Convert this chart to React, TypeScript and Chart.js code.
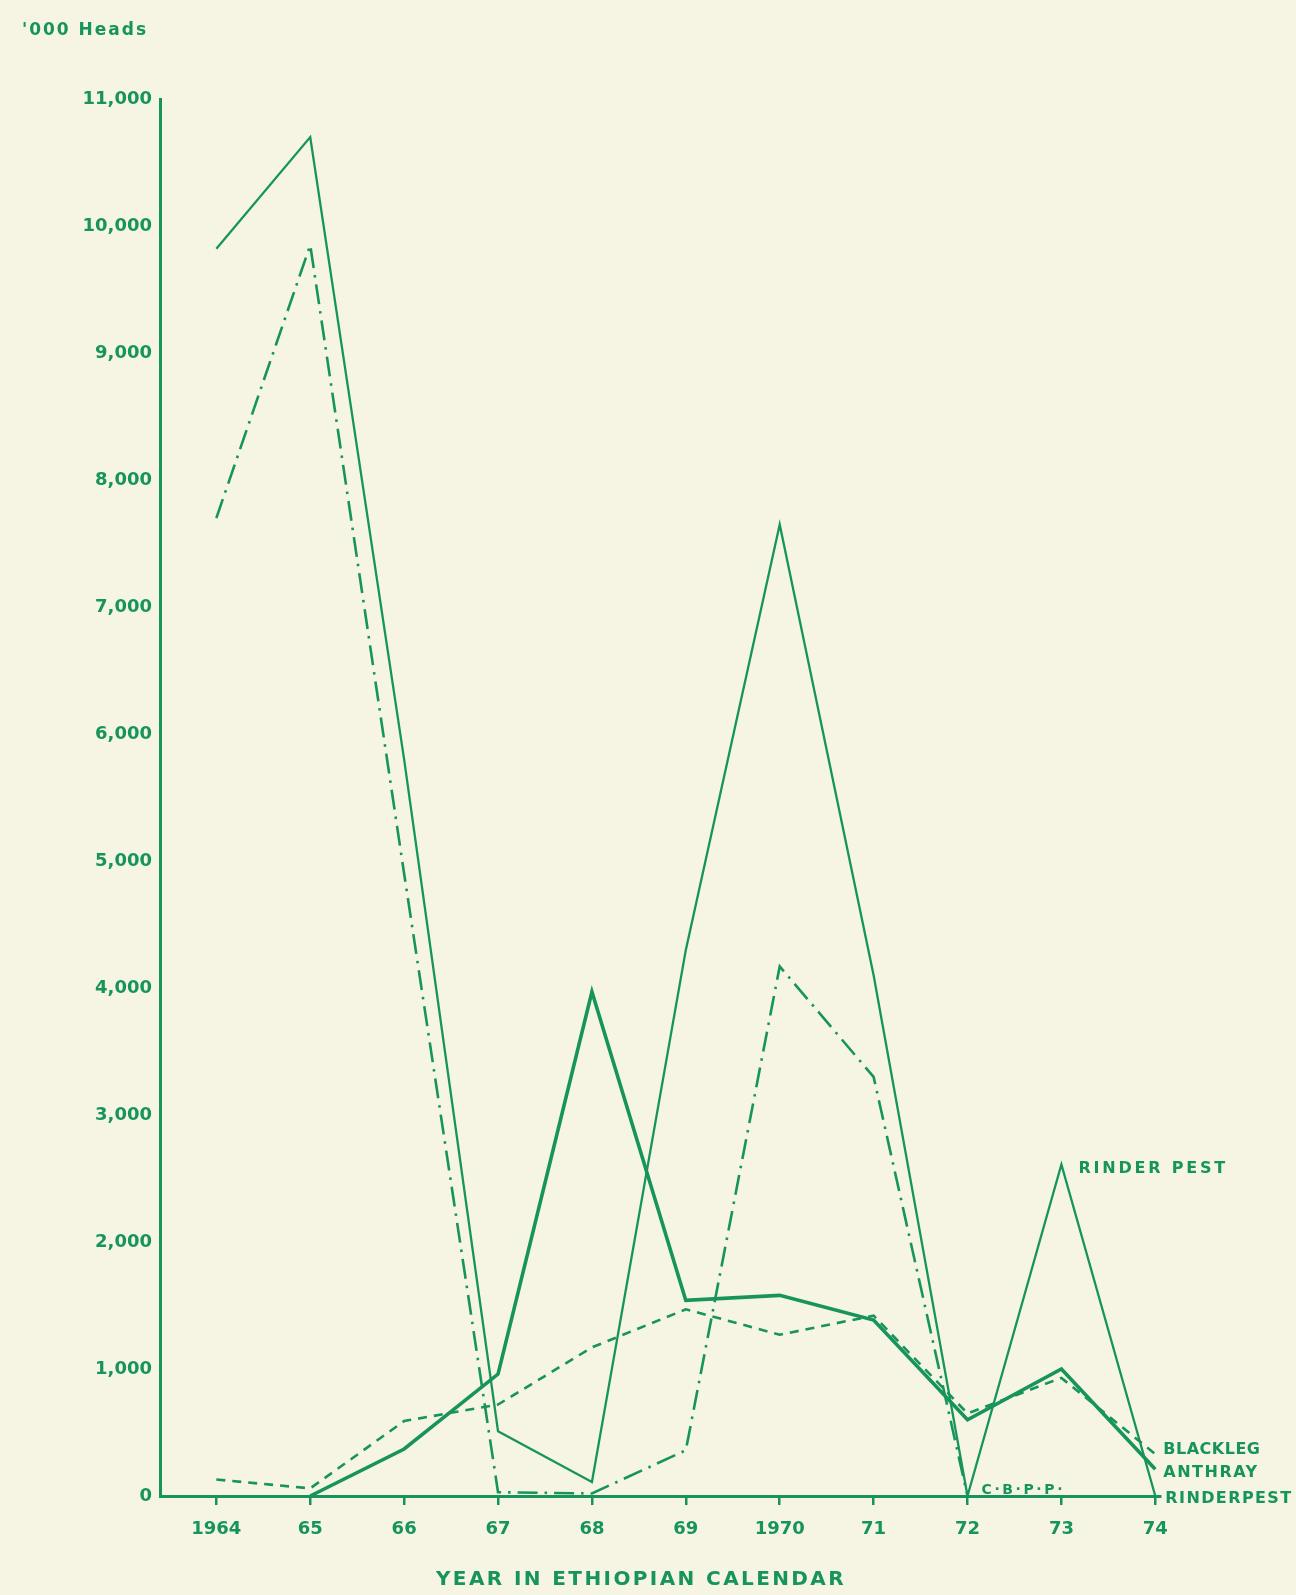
import React, { useEffect, useRef } from "react";
import { Chart, registerables } from "chart.js";

Chart.register(...registerables);

const years = [1964, 1965, 1966, 1967, 1968, 1969, 1970, 1971, 1972, 1973, 1974];
const yearLabels = ["1964", "65", "66", "67", "68", "69", "1970", "71", "72", "73", "74"];
const rinderpest = [9820, 10700, 5800, 510, 110, 4300, 7650, 4100, 0, 2610, 0];
const anthrax = [null, 0, 370, 960, 3970, 1540, 1580, 1385, 600, 1000, 210];
const blackleg = [130, 60, 590, 720, 1170, 1470, 1270, 1420, 650, 930, 330];
const cbpp = [7700, 9850, 4900, 30, 20, 360, 4170, 3300, 0, null, null];

const GREEN = "#16945b";
const BG = "#f6f5e4";
const FONT = "'DejaVu Sans', sans-serif";

function pts(vals: (number | null)[]) {
  return years.map((x, i) => ({ x, y: vals[i] }));
}

export default function App() {
  const ref = useRef<HTMLCanvasElement | null>(null);
  useEffect(() => {
    if (!ref.current) return;
    const textPlugin = {
      id: "texts",
      afterDraw(chart: any) {
        const ctx = chart.ctx;
        const xs = chart.scales.x;
        const ys = chart.scales.y;
        ctx.save();
        ctx.fillStyle = GREEN;
        ctx.textBaseline = "middle";
        ctx.textAlign = "left";
        const put = (t: string, x: number, y: number, size: number, sp: number) => {
          ctx.font = `bold ${size}px ${FONT}`;
          (ctx as any).letterSpacing = sp + "px";
          ctx.fillText(t, x, y);
        };
        put("'000 Heads", 22, 31, 17, 2);
        put("RINDER PEST", xs.getPixelForValue(1973) + 17, ys.getPixelForValue(2610) + 4, 16, 2.8);
        put("C·B·P·P·", xs.getPixelForValue(1972) + 14, ys.getPixelForValue(0) - 6, 14, 2.6);
        put("BLACKLEG", xs.getPixelForValue(1974) + 8, ys.getPixelForValue(330) - 4, 16, 0.5);
        put("ANTHRAY", xs.getPixelForValue(1974) + 8, ys.getPixelForValue(210) + 4, 16, 1.5);
        put("RINDERPEST", xs.getPixelForValue(1974) + 10, ys.getPixelForValue(0) + 3, 16, 1.4);
        ctx.textAlign = "center";
        put("YEAR IN ETHIOPIAN CALENDAR", 641, 1580, 20, 2.4);
        ctx.restore();
      },
    };
    const chart = new Chart(ref.current, {
      type: "line",
      data: {
        datasets: [
          {
            label: "Rinderpest",
            data: pts(rinderpest),
            borderColor: GREEN,
            borderWidth: 2.3,
            pointRadius: 0,
            tension: 0,
          },
          {
            label: "Anthrax",
            data: pts(anthrax),
            borderColor: GREEN,
            borderWidth: 3.6,
            pointRadius: 0,
            tension: 0,
          },
          {
            label: "Blackleg",
            data: pts(blackleg),
            borderColor: GREEN,
            borderWidth: 2.6,
            borderDash: [9, 7],
            pointRadius: 0,
            tension: 0,
          },
          {
            label: "C.B.P.P.",
            data: pts(cbpp),
            borderColor: GREEN,
            borderWidth: 2.6,
            borderDash: [20, 7, 2.5, 7],
            pointRadius: 0,
            tension: 0,
          },
        ],
      },
      options: {
        responsive: true,
        maintainAspectRatio: false,
        animation: false,
        clip: false as any,
        layout: { padding: { top: 99, right: 136, bottom: 0, left: 0 } },
        plugins: { legend: { display: false }, tooltip: { enabled: false } },
        scales: {
          x: {
            type: "linear",
            min: 1963.4,
            max: 1974.05,
            grid: { drawOnChartArea: false, drawTicks: true, tickLength: 9, color: GREEN, lineWidth: 2.5 },
            border: { display: true, color: GREEN, width: 3 },
            afterBuildTicks: (s: any) => {
              s.ticks = years.map((v) => ({ value: v }));
            },
            afterFit: (s: any) => {
              s.height = 99;
            },
            ticks: {
              color: GREEN,
              padding: 14,
              font: { family: FONT, size: 18, weight: "bold" },
              maxRotation: 0,
              autoSkip: false,
              callback: (v: any) => {
                const i = years.indexOf(Number(v));
                return i >= 0 ? yearLabels[i] : "";
              },
            },
          },
          y: {
            min: 0,
            max: 11000,
            grid: { display: false },
            border: { display: true, color: GREEN, width: 3 },
            afterFit: (s: any) => {
              s.width = 160;
            },
            ticks: {
              stepSize: 1000,
              color: GREEN,
              padding: 0,
              font: { family: FONT, size: 18, weight: "bold" },
              callback: (v: any) => Number(v).toLocaleString("en-US"),
            },
          },
        },
      },
      plugins: [textPlugin],
    });
    return () => chart.destroy();
  }, []);
  return (
    <div
      style={{
        position: "absolute",
        left: 0,
        top: 0,
        width: 1296,
        height: 1595,
        background: BG,
      }}
    >
      <canvas ref={ref} />
    </div>
  );
}
